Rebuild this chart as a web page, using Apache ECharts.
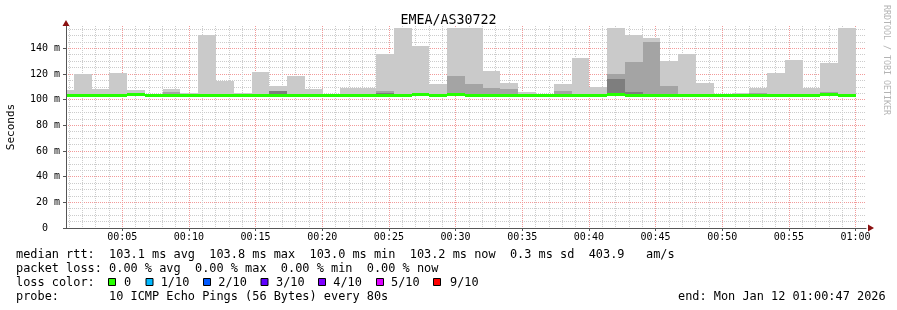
<!DOCTYPE html>
<html><head><meta charset="utf-8">
<script src="https://cdn.jsdelivr.net/npm/echarts@6/dist/echarts.min.js"></script>
<style>html,body{margin:0;padding:0;background:#fff}#c{width:897px;height:310px}</style>
</head><body><div id="c"></div>
<script>
// ---- data ----
const chartTitle = 'EMEA/AS30722';
const STEP = 80;              // seconds per RRD step (step i covers i*80 .. (i+1)*80 s after 00:00)
const X_MIN = 47, X_MAX = 3647; // 00:00:47 .. 01:00:47
const Y_MAX = 157.4;
// ping 10 (max) per step, ms
const rttMax = [107.5,120.0,108.3,120.8,107.5,104.6,108.3,105.2,150.4,114.5,
                105.2,121.5,110.6,118.7,108.3,104.4,109.3,109.3,135.6,155.8,
                141.8,112.2,155.8,155.8,122.3,113.0,106.0,104.3,112.2,132.4,
                109.8,155.8,150.4,148.0,130.1,135.6,113.0,104.4,105.4,109.1,
                120.8,130.9,109.3,128.5,155.8];
// ping 9 per step (null = not above median)
const rttP9 = [null,null,null,null,null,null,106.2,null,null,null,
               null,null,107.0,null,null,null,null,null,107.0,null,
               104.2,104.0,118.7,112.2,109.1,108.3,null,null,106.7,null,
               null,120.2,129.3,144.9,110.6,null,null,null,null,105.4,
               104.4,null,null,106.0,null];
// ping 8 per step
const rttP8 = [null,null,null,null,null,null,null,null,null,null,
               null,null,106.8,null,null,null,null,null,105.4,null,
               null,null,null,null,null,null,null,null,null,null,
               null,116.1,106.0,null,null,null,null,null,null,null,
               null,null,null,null,null];
const medianRtt = [103.0,103.1,103.0,103.0,103.7,103.0,103.1,103.0,103.0,103.0,
                   103.0,103.1,103.0,103.0,103.0,103.0,103.0,103.0,103.1,103.0,
                   103.8,103.0,103.8,103.0,103.1,103.0,103.0,103.0,103.0,103.0,
                   103.0,103.8,103.0,103.0,103.0,103.0,103.0,103.0,103.0,103.0,
                   103.0,103.0,103.0,103.8,103.2];
const lossIdx = [0,0,0,0,0,0,0,0,0,0, 0,0,0,0,0,0,0,0,0,0, 0,0,0,0,0,0,0,0,0,0,
                 0,0,0,0,0,0,0,0,0,0, 0,0,0,0,0];
const lossColors = ['#26ff00','#00b8ff','#0059ff','#5e00ff','#7e00ff','#dd00ff','#ff0000'];
const lossLabels = ['0','1/10','2/10','3/10','4/10','5/10','9/10'];
const yMajorTicks = [0,20,40,60,80,100,120,140];
const yMinorTicks = [5,10,15,25,30,35,45,50,55,65,70,75,85,90,95,105,110,115,125,130,135,145,150,155];
const xMajorTicks = [300,600,900,1200,1500,1800,2100,2400,2700,3000,3300,3600];
const xMinorTicks = [];
for (let m = 1; m <= 60; m++) if (m % 5) xMinorTicks.push(m * 60);

const statsLine = 'median rtt:  103.1 ms avg  103.8 ms max  103.0 ms min  103.2 ms now  0.3 ms sd  403.9   am/s';
const lossLine  = 'packet loss: 0.00 % avg  0.00 % max  0.00 % min  0.00 % now';
const probeLine = 'probe:       10 ICMP Echo Pings (56 Bytes) every 80s';
const endLine   = 'end: Mon Jan 12 01:00:47 2026';

// ---- chart ----
const MONO = '"DejaVu Sans Mono", monospace';
const chart = echarts.init(document.getElementById('c'), null, {renderer: 'canvas'});

function bandData(arr) {
  const out = [];
  arr.forEach((v, i) => { if (v != null) out.push([i * STEP, (i + 1) * STEP, medianRtt[i], v]); });
  return out;
}
function bandRender(color) {
  return function (params, api) {
    const s = api.value(0), e = api.value(1), lo = api.value(2), hi = api.value(3);
    const left = Math.round(api.coord([X_MIN, 0])[0]) + 1;
    let x0 = Math.ceil(api.coord([s, lo])[0]);
    if (x0 < left) x0 = left;
    const x1 = Math.ceil(api.coord([e, lo])[0]);
    const y0 = Math.round(api.coord([s, hi])[1]);
    const y1 = Math.round(api.coord([s, lo])[1]);
    return {type: 'rect', shape: {x: x0, y: y0, width: x1 - x0, height: y1 - y0}, style: {fill: color}};
  };
}
const medData = medianRtt.map((v, i) => [i * STEP, (i + 1) * STEP, v, lossIdx[i]]);
function medRender(params, api) {
  const s = api.value(0), e = api.value(1), v = api.value(2), li = api.value(3);
  const left = Math.round(api.coord([X_MIN, 0])[0]) + 1;
  let x0 = Math.ceil(api.coord([s, v])[0]);
  if (x0 < left) x0 = left;
  const x1 = Math.ceil(api.coord([e, v])[0]);
  const y = api.coord([s, v])[1];
  return {type: 'rect', shape: {x: x0, y: Math.round(y - 1.5), width: x1 - x0, height: 3}, style: {fill: lossColors[li]}};
}
function fmtTime(v) {
  const h = Math.floor(v / 3600), m = Math.floor((v % 3600) / 60);
  return String(h).padStart(2, '0') + ':' + String(m).padStart(2, '0');
}

const graphics = [
  {type: 'text', x: 11, y: 127, rotation: Math.PI / 2,
   style: {text: 'Seconds', font: '11px ' + MONO, fill: '#000', align: 'center', verticalAlign: 'middle'}},
  {type: 'text', x: 886, y: 60, rotation: -Math.PI / 2,
   style: {text: 'RRDTOOL / TOBI OETIKER', font: '8.3px ' + MONO, fill: '#b4b4b4', align: 'center', verticalAlign: 'middle'}},
  {type: 'text', x: 16, y: 254.5, style: {text: statsLine, font: '11.9px ' + MONO, fill: '#000', verticalAlign: 'middle'}},
  {type: 'text', x: 16, y: 268.5, style: {text: lossLine, font: '11.9px ' + MONO, fill: '#000', verticalAlign: 'middle'}},
  {type: 'text', x: 16, y: 282.5, style: {text: 'loss color:', font: '11.9px ' + MONO, fill: '#000', verticalAlign: 'middle'}},
  {type: 'text', x: 16, y: 296.5, style: {text: probeLine, font: '11.9px ' + MONO, fill: '#000', verticalAlign: 'middle'}},
  {type: 'text', x: 678, y: 296.5, style: {text: endLine, font: '11.9px ' + MONO, fill: '#000', verticalAlign: 'middle'}}
];
const swX = [108.5, 146, 203.5, 261, 318.5, 376.5, 433.5];
const lbX = [124, 160.7, 218.3, 276, 333.3, 391, 450];
lossColors.forEach((c, i) => {
  graphics.push({type: 'rect', shape: {x: swX[i], y: 278.5, width: 7, height: 7}, style: {fill: c, stroke: '#000', lineWidth: 1}});
  graphics.push({type: 'text', x: lbX[i], y: 282.5, style: {text: lossLabels[i], font: '11.9px ' + MONO, fill: '#000', verticalAlign: 'middle'}});
});

const minorLine = {color: '#cccccc', width: 1, type: [1, 1]};
const majorLine = {color: '#f29a9a', width: 1, type: [1, 1]};

chart.setOption({
  animation: false,
  backgroundColor: '#fff',
  title: {text: chartTitle, left: 'center', top: 14, padding: 0,
          textStyle: {fontFamily: MONO, fontSize: 13.3, fontWeight: 'normal', color: '#000'}},
  grid: {left: 66, right: 31, top: 26, bottom: 82, containLabel: false, outerBoundsMode: 'none'},
  xAxis: [
    {type: 'value', min: X_MIN, max: X_MAX, position: 'bottom',
     axisLine: {show: true, onZero: false, symbol: ['none', 'triangle'], symbolSize: [7, 6], symbolOffset: [0, 5],
                lineStyle: {color: '#8b1010', width: 0}},
     axisTick: {show: false, customValues: xMinorTicks}, axisLabel: {show: false},
     splitLine: {show: true, lineStyle: minorLine}},
    {type: 'value', min: X_MIN, max: X_MAX, position: 'bottom',
     axisLine: {show: true, onZero: false, lineStyle: {color: '#555', width: 1}},
     axisTick: {show: true, length: 3, customValues: xMajorTicks, lineStyle: {color: '#555'}},
     axisLabel: {customValues: xMajorTicks, formatter: fmtTime, margin: 4, fontFamily: MONO, fontSize: 10, color: '#000'},
     splitLine: {show: true, lineStyle: majorLine}}
  ],
  yAxis: [
    {type: 'value', min: 0, max: Y_MAX, position: 'left',
     axisLine: {show: true, onZero: false, lineStyle: {color: '#555', width: 1}},
     axisTick: {show: true, length: 3, customValues: yMajorTicks, lineStyle: {color: '#555'}},
     axisLabel: {customValues: yMajorTicks, formatter: v => (v === 0 ? '0  ' : v + ' m'), margin: 6,
                 fontFamily: MONO, fontSize: 10, color: '#000'},
     splitLine: {show: true, lineStyle: majorLine}},
    {type: 'value', min: 0, max: Y_MAX, position: 'left',
     axisLine: {show: true, onZero: false, symbol: ['none', 'triangle'], symbolSize: [7, 6], symbolOffset: [0, 3],
                lineStyle: {color: '#8b1010', width: 0}},
     axisTick: {show: false, customValues: yMinorTicks}, axisLabel: {show: false},
     splitLine: {show: true, lineStyle: minorLine}}
  ],
  series: [
    {type: 'custom', xAxisIndex: 1, yAxisIndex: 0, data: bandData(rttMax), renderItem: bandRender('#cacaca'), silent: true},
    {type: 'custom', xAxisIndex: 1, yAxisIndex: 0, data: bandData(rttP9), renderItem: bandRender('#a4a4a4'), silent: true},
    {type: 'custom', xAxisIndex: 1, yAxisIndex: 0, data: bandData(rttP8), renderItem: bandRender('#7e7e7e'), silent: true},
    {type: 'custom', xAxisIndex: 1, yAxisIndex: 0, data: medData, renderItem: medRender, silent: true}
  ],
  graphic: graphics
});
</script></body></html>
